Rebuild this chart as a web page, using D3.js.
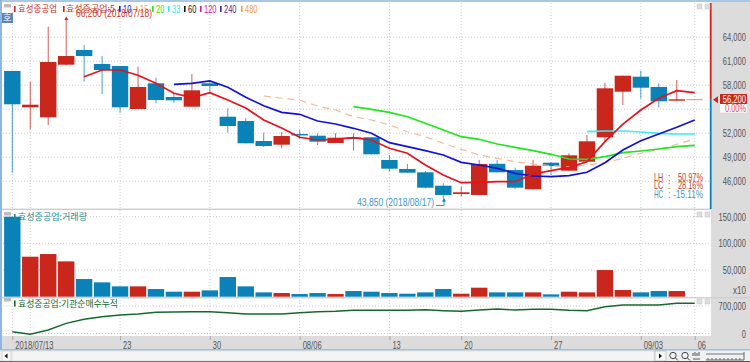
<!DOCTYPE html>
<html>
<head>
<meta charset="utf-8">
<script src="https://cdn.jsdelivr.net/npm/d3@7"></script>
<style>
html, body { margin: 0; padding: 0; background: #fff; overflow: hidden; }
svg { display: block; }
text { font-family: "Noto Sans CJK KR", sans-serif; }
.num { font-family: "Liberation Sans", sans-serif; font-size: 10.5px; fill: #555; }
</style>
</head>
<body>
<div id="chart"></div>
<script>
// daily candles, 2018/07/13 .. 2018/09/06
const opens  = [59790,55250,54000,60575,62410,60660,60410,55040,58250,56540,55325,58250,54075,53540,51040,50575,51910,51700,50790,51470,51500,48660,47540,47125,45450,44410,44290,48190,47410,45000,48325,47325,48450,51500,57200,59075,57790,56075,56200];
const closes = [55625,55575,60910,61660,61660,59910,55250,57790,56160,56125,57375,57910,52910,50750,50410,51660,51790,50950,51450,51400,49375,47575,47075,45200,44290,44625,48160,47125,45200,47950,47910,49250,51000,57625,59200,57700,56000,56250,56200];
const highs  = [59790,58450,65325,66200,63040,61660,60410,60325,58950,57000,59400,58660,55125,53900,52075,52125,52410,52000,52000,52000,51500,49290,48160,47290,45750,45325,48660,48660,47700,48660,48400,49500,51790,58325,59200,59825,58250,58660,56200];
const lows   = [47075,52500,53040,60540,58450,56910,54575,55040,55750,55825,55325,57200,52075,50750,50290,50160,51290,50540,50750,49825,49375,47200,47075,45125,43850,44075,44290,47125,45040,45000,46800,47325,48450,50950,55540,56325,55250,56040,56200];

// moving averages, first value belongs to the candle index in *Start
const ma5Start = 4;
const ma5 = [59075,59910,59910,59250,58250,57000,56450,57075,56160,55160,53660,52660,51500,51160,51250,51450,51160,50125,49500,48040,46790,45825,45875,45950,45950,46910,47325,47750,48450,50950,53160,54910,56375,57325,57075];
const ma10Start = 9;
const ma10 = [58125,58250,58540,57750,56500,55450,54625,54375,53540,53160,52625,52000,50825,50325,49825,49290,48375,48040,47625,47000,46660,46575,46700,47125,48325,49910,51075,51910,52750,53660];
const ma15Start = 14;
const ma15 = [56660,56375,56160,55410,54910,54075,53660,53040,52200,51575,50750,50000,49290,48875,48450,48160,47950,47825,48040,48325,48875,49500,50000,50625,51290];
const ma20Start = 19;
const ma20 = [55325,55000,54625,54075,53250,52410,51575,51250,50660,50250,49825,49375,48790,48750,49075,49575,49790,50040,50325,50500];
const ma33Start = 32;
const ma33 = [52200,52290,52290,52160,52000,51910,51910];

const volumes = [150000,75000,80000,66250,33125,26875,19375,19375,14375,9375,9375,11875,36875,19375,8125,6875,5000,6875,5000,10625,9375,6875,5625,8125,14375,5625,16875,8125,8125,8125,4375,9375,8125,50000,12500,8125,10625,10625,0];
const instNet = [45800,-20400,89100,259600,361500,427600,470900,496400,539600,547300,554900,554900,529500,496400,496400,496400,529500,554900,565100,590600,590600,590600,590600,605800,580400,565100,598200,623600,598200,616000,616000,590600,580400,682200,725500,725500,725500,768700,768700];

const dateIdx = [0,6,11,16,21,25,30,35,38];
const dateLabels = ["2018/07/13","23","30","08/06","13","20","27","09/03","06"];
const gridIdx = [0,1,6,11,16,21,25,30,35,38];
const priceGrid = [64000,61000,58000,55000,52000,49000,46000];
const priceTicks = [64000,61000,58000,52000,49000,46000];
const volTicks = [150000,100000,50000];
const instTicks = [700000,0];

const legendLabels = ["10","15","20","33","60","120","240","480"];
const legendColors = ["#1414d2","#f5a970","#22e822","#35e8f5","#111111","#e0148c","#4a1e96","#f0a040"];
const legendX = [123,140,156,172,188,204,224,245];

const RED = "#c9261c", BLUE = "#0a82b8";
const width = 750, height = 362;

const svg = d3.select("#chart").append("svg")
    .attr("width", width)
    .attr("height", height);

const x = d3.scaleLinear().domain([0, 38]).range([12.3, 694.7]);
const yPrice = d3.scaleLinear().domain([46000, 64000]).range([181.3, 37.3]);
const yVol = d3.scaleLinear().domain([0, 150000]).range([296.7, 216.7]);
const yInst = d3.scaleLinear().domain([0, 700000]).range([333.5, 306]);

// background panels
svg.append("rect").attr("x", 711).attr("y", 0).attr("width", 39).attr("height", 337).attr("fill", "#dcdcdc");
svg.append("rect").attr("x", 0).attr("y", 336).attr("width", 750).attr("height", 14).attr("fill", "#dcdcdc");
svg.append("rect").attr("x", 0).attr("y", 350).attr("width", 750).attr("height", 12).attr("fill", "#f0f0f0");
svg.append("rect").attr("x", 0).attr("y", 349).attr("width", 750).attr("height", 1.5).attr("fill", "#9cc0e0");
svg.append("rect").attr("x", 0).attr("y", 361).attr("width", 750).attr("height", 1).attr("fill", "#555");
svg.append("rect").attr("x", 0).attr("y", 0).attr("width", 750).attr("height", 2).attr("fill", "#a8c8e6");
svg.append("rect").attr("x", 0).attr("y", 0).attr("width", 2).attr("height", 350).attr("fill", "#8fb6de");

// dotted grid
const gridG = svg.append("g")
    .attr("stroke", "#cfcfcf")
    .attr("stroke-dasharray", "1 2");
gridG.selectAll("line.v")
    .data(gridIdx)
    .join("line")
    .attr("class", "v")
    .attr("x1", d => x(d)).attr("x2", d => x(d))
    .attr("y1", 3).attr("y2", 336);
const hLines = priceGrid.map(d => yPrice(d))
    .concat(volTicks.map(d => yVol(d)))
    .concat(instTicks.map(d => yInst(d)));
gridG.selectAll("line.h")
    .data(hLines)
    .join("line")
    .attr("class", "h")
    .attr("x1", 3).attr("x2", 710)
    .attr("y1", d => d).attr("y2", d => d);

// pane separators
svg.append("rect").attr("x", 2).attr("y", 208.6).attr("width", 709).attr("height", 1.4).attr("fill", "#cccccc");
svg.append("rect").attr("x", 2).attr("y", 297).attr("width", 748).attr("height", 1.4).attr("fill", "#d0d0d0");

// candles
const colorOf = i => closes[i] >= opens[i] ? RED : BLUE;
const idx = d3.range(opens.length);
const candleW = 16.4;

const candles = svg.append("g");
candles.selectAll("line")
    .data(idx)
    .join("line")
    .attr("x1", d => x(d)).attr("x2", d => x(d))
    .attr("y1", d => yPrice(highs[d]))
    .attr("y2", d => yPrice(lows[d]))
    .attr("stroke", d => colorOf(d))
    .attr("stroke-opacity", 0.75)
    .attr("stroke-width", 1);
candles.selectAll("rect")
    .data(idx.slice(0, 38))
    .join("rect")
    .attr("x", d => x(d) - candleW / 2)
    .attr("width", candleW)
    .attr("y", d => Math.min(yPrice(opens[d]), yPrice(closes[d])))
    .attr("height", d => Math.max(1.4, Math.abs(yPrice(opens[d]) - yPrice(closes[d]))))
    .attr("fill", d => colorOf(d));
// today's candle has no body yet, just a pale dash
svg.append("line")
    .attr("x1", x(38) - 8).attr("x2", x(38) + 8)
    .attr("y1", yPrice(closes[38])).attr("y2", yPrice(closes[38]))
    .attr("stroke", RED).attr("stroke-opacity", 0.55);

// moving averages
const maLine = start => d3.line()
    .x((d, i) => x(start + i))
    .y(d => yPrice(d));

function drawMa(values, start, color, w, dash) {
    svg.append("path")
        .attr("d", maLine(start)(values))
        .attr("fill", "none")
        .attr("stroke", color)
        .attr("stroke-width", w)
        .attr("stroke-dasharray", dash);
}
drawMa(ma15, ma15Start, "#f5b594", 1.1, "7 5");
drawMa(ma33, ma33Start, "#35eef8", 1.7, null);
drawMa(ma20, ma20Start, "#1fe61f", 1.7, null);
drawMa(ma10, ma10Start, "#1212d4", 1.7, null);
drawMa(ma5, ma5Start, "#e8121c", 1.7, null);

// volume bars
svg.append("g").selectAll("rect")
    .data(idx.slice(0, 38))
    .join("rect")
    .attr("x", d => x(d) - candleW / 2)
    .attr("width", candleW)
    .attr("y", d => yVol(volumes[d]))
    .attr("height", d => yVol(0) - yVol(volumes[d]))
    .attr("fill", d => colorOf(d));

// institutional cumulative net buying
svg.append("path")
    .attr("d", d3.line().x((d, i) => x(i)).y(d => yInst(d))(instNet))
    .attr("fill", "none")
    .attr("stroke", "#16692e")
    .attr("stroke-width", 1.4);

// current price line on the right edge
svg.append("rect").attr("x", 709.8).attr("y", 3).attr("width", 1.8).attr("height", yPrice(closes[38]) - 3).attr("fill", RED);
svg.append("rect").attr("x", 709.8).attr("y", yPrice(closes[38])).attr("width", 1.8).attr("height", 209 - yPrice(closes[38])).attr("fill", BLUE);

// axes
function rightAxis(scale, ticks, fmt) {
    const g = svg.append("g")
        .attr("transform", "translate(746,0)")
        .call(d3.axisLeft(scale).tickValues(ticks).tickSize(0).tickFormat(fmt));
    g.select(".domain").remove();
    g.selectAll("text").attr("class", "num").attr("x", 0).attr("dy", "0.34em");
    return g;
}
rightAxis(yPrice, priceTicks, d3.format(","));
rightAxis(yVol, volTicks, d3.format(","));
rightAxis(yInst, instTicks, d3.format(","));
svg.append("text").attr("class", "num").attr("x", 746).attr("y", 294).attr("text-anchor", "end").text("x10");

const xAxis = svg.append("g")
    .attr("transform", "translate(0,336)")
    .call(d3.axisBottom(x).tickValues(dateIdx).tickSize(4).tickFormat((d, i) => dateLabels[i]));
xAxis.select(".domain").remove();
xAxis.selectAll("line").attr("stroke", "#aaa");
xAxis.selectAll("text")
    .attr("class", "num")
    .attr("text-anchor", "start")
    .attr("x", 2.5).attr("y", 4).attr("dy", "0.71em");

// price tag
svg.append("path").attr("d", "M713,99.7L718,96.2L718,103.2Z").attr("fill", RED);
svg.append("rect").attr("x", 720).attr("y", 94).attr("width", 27).attr("height", 10).attr("fill", RED);
svg.append("text").attr("class", "num").attr("x", 746).attr("y", 102.6).attr("text-anchor", "end").style("fill", "#fff").text("56,200");
svg.append("rect").attr("x", 720).attr("y", 104).attr("width", 27).attr("height", 8.5).attr("fill", "#fff");
svg.append("text").attr("class", "num").attr("x", 746).attr("y", 112).attr("text-anchor", "end").style("fill", "#e0483c").text("0.00%");

// legends
function bullet(px, py, color) {
    svg.append("rect").attr("x", px).attr("y", py - 3).attr("width", 1.6).attr("height", 6).attr("fill", color);
}
function label(px, py, txt, color, size) {
    return svg.append("text")
        .attr("x", px).attr("y", py).attr("dy", "0.36em")
        .attr("font-size", size || 9)
        .attr("fill", color)
        .text(txt);
}
function squeeze(sel, w) {
    return sel.attr("textLength", w).attr("lengthAdjust", "spacingAndGlyphs");
}
bullet(14, 9, RED);
squeeze(label(18, 9, "효성중공업", "#c9352a"), 39);
bullet(63, 9, RED);
squeeze(label(66, 9, "효성중공업:5", "#c9352a"), 49);
legendLabels.forEach((d, i) => {
    bullet(legendX[i] - 4, 9, legendColors[i]);
    label(legendX[i], 9, d, legendColors[i]).attr("class", "num").style("fill", legendColors[i]);
});
bullet(14, 217, "#2a8a8a");
squeeze(label(18, 217, "효성중공업:거래량", "#2a8a8a"), 69);
bullet(14, 303.5, "#16692e");
squeeze(label(18, 303.5, "효성중공업:기관순매수누적", "#16692e"), 100);

// range stats
[["LH", "50.97%", "#b5453c", 177.7], ["LC", "28.16%", "#b5453c", 185.7], ["HC", "-15.11%", "#3f98c4", 194]].forEach(d => {
    label(654, d[3], d[0], d[2]).attr("class", "num").style("fill", d[2]);
    label(668, d[3], ":", d[2]).attr("class", "num").style("fill", d[2]);
    label(703, d[3], d[1], d[2]).attr("class", "num").style("fill", d[2]).attr("text-anchor", "end");
});

// window controls
[[4, 4], [4, 212], [4, 298]].forEach(d => {
    svg.append("rect").attr("x", d[0]).attr("y", d[1]).attr("width", 7).attr("height", 3.5).attr("fill", "#bdbdbd");
});
[4, 212, 299].forEach(py => {
    [697, 705].forEach(px => {
        svg.append("rect").attr("x", px).attr("y", py).attr("width", 5).attr("height", 5)
            .attr("fill", "#dedede").attr("stroke", "#c4c4c4").attr("stroke-width", 0.5);
    });
});
svg.append("rect").attr("x", 2).attr("y", 13).attr("width", 11).attr("height", 10).attr("fill", "#5d86b8");
label(3, 18, "호", "#fff", 9);

// scrollbar and zoom buttons
svg.append("rect").attr("x", 2).attr("y", 351).attr("width", 9).attr("height", 10).attr("fill", "#f6f6f6").attr("stroke", "#bbb").attr("stroke-width", 0.5);
svg.append("path").attr("d", "M4.5,356L7.5,353.5L7.5,358.5Z").attr("fill", "#111");
svg.append("rect").attr("x", 12).attr("y", 351).attr("width", 642).attr("height", 10).attr("fill", "#f4f4f4").attr("stroke", "#d0d0d0").attr("stroke-width", 0.5);
svg.append("rect").attr("x", 655).attr("y", 351).attr("width", 11).attr("height", 10).attr("fill", "#f6f6f6").attr("stroke", "#999").attr("stroke-width", 0.5);
svg.append("path").attr("d", "M659,353.5L662,356L659,358.5Z").attr("fill", "#111");
[673, 685].forEach(px => {
    svg.append("circle").attr("cx", px).attr("cy", 355.5).attr("r", 3.2).attr("fill", "none").attr("stroke", "#444");
    svg.append("line").attr("x1", px + 2.5).attr("y1", 358).attr("x2", px + 5).attr("y2", 360.5).attr("stroke", "#444");
});
svg.append("path").attr("d", "M693,353v3M695,352v4M697,353v3M699,352v4M693,359h7").attr("stroke", "#555").attr("fill", "none");
svg.append("line").attr("x1", 706).attr("x2", 744).attr("y1", 354).attr("y2", 354).attr("stroke", "#777");
svg.append("path").attr("d", "M706,360h38M708,358v2M712,358v2M716,358v2M720,358v2M724,358v2M728,358v2M732,358v2M736,358v2M740,358v2M744,352v8").attr("stroke", "#666").attr("fill", "none");

// the reference uses a narrow bitmap font: scale every number to its measured width
const charW = c => /[0-9]/.test(c) ? 4.15 : /[,./:() ]/.test(c) ? 2.5 : c === "%" ? 6 : 4.6;
svg.selectAll("text.num").each(function () {
    const t = d3.select(this).text();
    squeeze(d3.select(this), d3.sum(Array.from(t), charW));
});
// date labels sit a little lower in the band
xAxis.selectAll("text").attr("y", 5.5);

// high / low notes, wider than the other numbers
squeeze(label(76, 13.5, "66,200 (2018/07/18)", "#c9352a").attr("class", "num").style("fill", "#c9352a"), 76);
svg.append("path").attr("d", "M66.3,16.5L64.3,20L68.3,20Z").attr("fill", RED);
squeeze(label(357, 202.7, "43,850 (2018/08/17)", "#3f98c4").attr("class", "num").style("fill", "#3f98c4"), 77);
svg.append("path").attr("d", "M436,205.5L444,205.5L444,200").attr("fill", "none").attr("stroke", "#3f98c4");
svg.append("path").attr("d", "M444,198L442,201.5L446,201.5Z").attr("fill", BLUE);
</script>
</body>
</html>
